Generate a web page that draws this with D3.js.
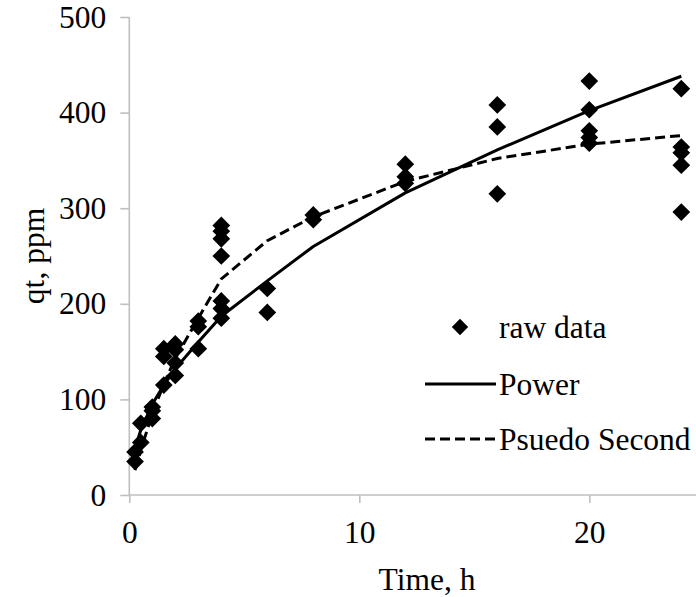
<!DOCTYPE html>
<html>
<head>
<meta charset="utf-8">
<script src="https://cdn.jsdelivr.net/npm/d3@7"></script>
<style>
  html, body { margin: 0; padding: 0; background: #fff; }
  svg { display: block; }
  text { font-family: "Liberation Serif", "Times New Roman", serif; fill: #000; }
</style>
</head>
<body>
<svg id="chart" width="696" height="597"></svg>
<script>
// Measured uptake (qt, ppm) at each sampling time (h)
const rawTimes = [
  0.25, 0.25,
  0.5, 0.5,
  1, 1, 1,
  1.5, 1.5, 1.5,
  2, 2, 2, 2,
  3, 3, 3,
  4, 4, 4, 4, 4, 4, 4,
  6, 6,
  8, 8,
  12, 12, 12,
  16, 16, 16,
  20, 20, 20, 20, 20,
  24, 24, 24, 24, 24
];
const rawQt = [
  35, 45,
  55, 75,
  80, 88, 92,
  115, 145, 153,
  125, 138, 152, 158,
  153, 176, 182,
  185, 195, 203, 250, 268, 276, 282,
  191, 216,
  288, 293,
  326, 333, 346,
  315, 385, 408,
  368, 374, 381, 403, 433,
  296, 345, 358, 364, 425
];

// Model curves evaluated at the sampling times
const modelTimes = [0.25, 0.5, 1, 1.5, 2, 3, 4, 6, 8, 12, 16, 20, 24];
const powerQt   = [49, 68, 95, 115, 132, 160, 187, 224, 260, 316, 361, 402, 438];
const pseudoQt  = [26, 47, 85, 116, 143, 185, 226, 266, 291, 328, 352, 367, 376];

const xTicks = [0, 10, 20];
const yTicks = [0, 100, 200, 300, 400, 500];
const legendLabels = ["raw data", "Power", "Psuedo Second"];

const svg = d3.select("#chart");
const x = d3.scaleLinear().domain([0, 25]).range([129.3, 704.3]);
const y = d3.scaleLinear().domain([0, 500]).range([495, 17]);

const axisColor = "#bfbfbf";
const fontSize = 31.5;

// Y axis
const yAxis = svg.append("g").attr("transform", `translate(${x(0)},0)`)
  .call(d3.axisLeft(y).tickValues(yTicks).tickSize(9).tickPadding(14).tickFormat(d3.format("d")));
// X axis
const xAxis = svg.append("g").attr("transform", `translate(0,${y(0)})`)
  .call(d3.axisBottom(x).tickValues(xTicks).tickSize(8).tickPadding(18).tickFormat(d3.format("d")));

[yAxis, xAxis].forEach(g => {
  g.select(".domain").attr("stroke", axisColor).attr("stroke-width", 1.6);
  g.selectAll(".tick line").attr("stroke", axisColor).attr("stroke-width", 1.6);
  g.selectAll(".tick text")
    .style("font-family", '"Liberation Serif", "Times New Roman", serif')
    .style("font-size", fontSize + "px").attr("fill", "#000");
});
// Plain axis lines without end caps
yAxis.select(".domain").attr("d", `M0,${y(500)}V${y(0)}`);
xAxis.select(".domain").attr("d", `M${x(0)},0H${x(25)}`);

// Axis titles
svg.append("text")
  .attr("x", 427).attr("y", 590)
  .attr("text-anchor", "middle")
  .style("font-size", fontSize + "px")
  .text("Time, h");

svg.append("text")
  .attr("transform", `translate(44,${y(250)}) rotate(-90)`)
  .attr("text-anchor", "middle")
  .style("font-size", fontSize + "px")
  .text("qt, ppm");

// Model curves
const line = d3.line().x(d => x(d[0])).y(d => y(d[1]));
svg.append("path")
  .datum(d3.zip(modelTimes, powerQt))
  .attr("d", line).attr("fill", "none").attr("stroke", "#000")
  .attr("stroke-width", 3).attr("stroke-linejoin", "round");
svg.append("path")
  .datum(d3.zip(modelTimes, pseudoQt))
  .attr("d", line).attr("fill", "none").attr("stroke", "#000")
  .attr("stroke-width", 3).attr("stroke-dasharray", "10,5");

// Raw data diamonds
const diamond = d3.symbol().type(d3.symbolDiamond2).size(200);
svg.append("g").selectAll("path")
  .data(d3.zip(rawTimes, rawQt))
  .join("path")
  .attr("transform", d => `translate(${x(d[0])},${y(d[1])})`)
  .attr("d", diamond)
  .attr("fill", "#000");

// Legend
const legend = svg.append("g");
const rowY = [327, 384, 439];
legend.append("path")
  .attr("transform", `translate(460,${rowY[0]})`)
  .attr("d", d3.symbol().type(d3.symbolDiamond2).size(170))
  .attr("fill", "#000");
legend.append("line").attr("x1", 425).attr("x2", 496)
  .attr("y1", rowY[1]).attr("y2", rowY[1])
  .attr("stroke", "#000").attr("stroke-width", 3);
legend.append("line").attr("x1", 425).attr("x2", 496)
  .attr("y1", rowY[2]).attr("y2", rowY[2])
  .attr("stroke", "#000").attr("stroke-width", 3).attr("stroke-dasharray", "10,5");
legend.selectAll("text.lbl")
  .data(legendLabels)
  .join("text")
  .attr("class", "lbl")
  .attr("x", 499)
  .attr("y", (d, i) => rowY[i])
  .attr("dy", "0.35em")
  .style("font-size", fontSize + "px")
  .text(d => d);
</script>
</body>
</html>
